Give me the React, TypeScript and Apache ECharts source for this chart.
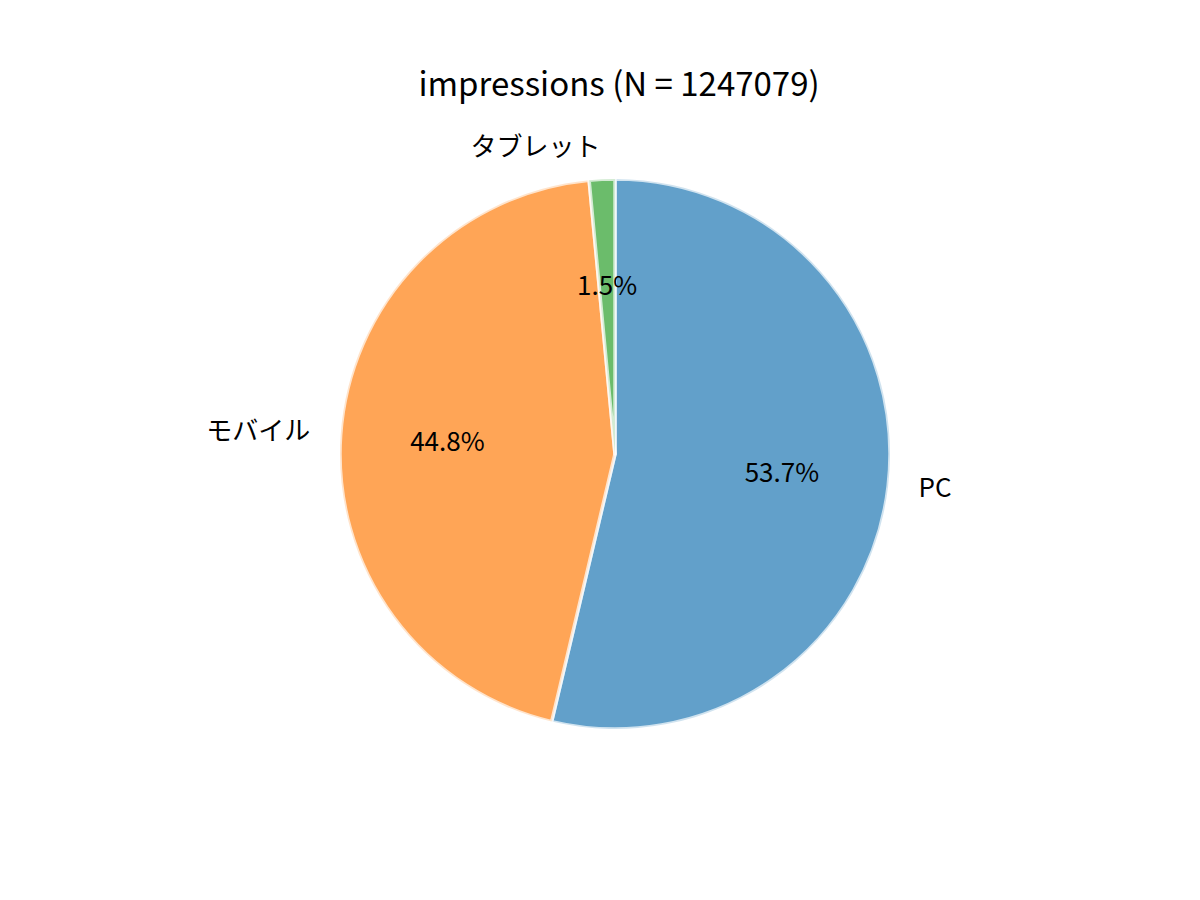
import { useRef, useEffect } from "react";
import * as echarts from "echarts";

const devices = ["PC", "モバイル", "タブレット"];
const impressions = [669681, 558691, 18707];
const colors = ["rgba(31,119,180,0.7)", "rgba(255,127,14,0.7)", "rgba(44,160,44,0.7)"];

const FONT = "'Noto Sans CJK JP', 'Noto Sans', sans-serif";
const RADIUS = 275;

export default function App() {
  const chartRef = useRef<HTMLDivElement>(null);

  useEffect(() => {
    if (!chartRef.current) return;
    const chart = echarts.init(chartRef.current, undefined, { renderer: "svg" });
    const total = impressions.reduce((a, b) => a + b, 0);
    const data = devices.map((name, i) => ({
      name,
      value: impressions[i],
      itemStyle: { color: colors[i] },
    }));

    const option: echarts.EChartsOption = {
      animation: false,
      title: {
        text: `impressions (N = ${total})`,
        left: 614,
        top: 60,
        textAlign: "center",
        textStyle: {
          fontFamily: FONT,
          fontSize: 33,
          fontWeight: "normal",
          color: "#000",
          lineHeight: 33,
        },
      },
      series: [
        {
          type: "pie",
          center: [615, 454],
          radius: RADIUS,
          startAngle: 90,
          clockwise: true,
          avoidLabelOverlap: false,
          silent: true,
          data,
          itemStyle: {
            borderColor: "rgba(255,255,255,0.7)",
            borderWidth: 3.5,
          },
          label: {
            show: true,
            position: "outside",
            formatter: "{b}",
            fontFamily: FONT,
            fontSize: 26,
            color: "#000",
            distanceToLabelLine: 0,
          },
          labelLine: { show: false, length: RADIUS * 0.1 + 3, length2: 0 },
          labelLayout: { dy: -4 },
        },
        {
          // invisible ring whose mid radius sits at 0.6 r, carrying the percentages
          type: "pie",
          center: [615, 454],
          radius: [RADIUS * 0.2, RADIUS],
          startAngle: 90,
          clockwise: true,
          avoidLabelOverlap: false,
          silent: true,
          percentPrecision: 1,
          data: devices.map((name, i) => ({ name, value: impressions[i] })),
          itemStyle: { color: "transparent", borderWidth: 0 },
          label: {
            show: true,
            position: "inside",
            formatter: (p: any) => `${p.percent.toFixed(1)}%`,
            fontFamily: FONT,
            fontSize: 26,
            color: "#000",
          },
          labelLine: { show: false },
          labelLayout: { dy: -3 },
        },
      ],
    };

    chart.setOption(option);
    return () => chart.dispose();
  }, []);

  return (
    <div
      ref={chartRef}
      style={{ position: "absolute", left: 0, top: 0, width: "1200px", height: "900px" }}
    />
  );
}
